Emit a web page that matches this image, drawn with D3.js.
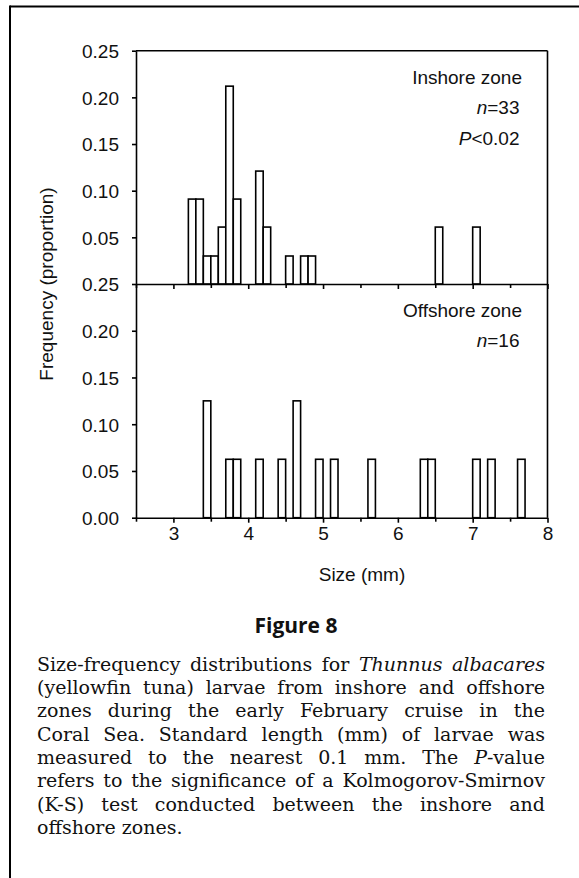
<!DOCTYPE html>
<html>
<head>
<meta charset="utf-8">
<script src="https://cdn.jsdelivr.net/npm/d3@7"></script>
<style>
  html, body { margin: 0; padding: 0; background: #fff; }
  #wrap { position: relative; width: 579px; height: 878px; overflow: hidden; }
  svg { position: absolute; left: 0; top: 0; }
  .cap { position: absolute; left: 37px; width: 508px; font-family: "DejaVu Serif", serif;
         white-space: nowrap; text-align: justify; text-align-last: justify; color: #111; }
  .cap.last { text-align-last: left; }
  #meas { position: absolute; visibility: hidden; white-space: nowrap; font-family: "DejaVu Serif", serif; }
</style>
</head>
<body>
<div id="wrap"></div>
<script>
// ---- data ----
const inshoreBins = [3.2, 3.3, 3.4, 3.5, 3.6, 3.7, 3.8, 4.1, 4.2, 4.5, 4.7, 4.8, 6.5, 7.0];
const inshoreFreq = [0.091, 0.091, 0.030, 0.030, 0.061, 0.212, 0.091, 0.121, 0.061, 0.030, 0.030, 0.030, 0.061, 0.061];
const offshoreBins = [3.4, 3.7, 3.8, 4.1, 4.4, 4.6, 4.9, 5.1, 5.6, 6.3, 6.4, 7.0, 7.2, 7.6];
const offshoreFreq = [0.125, 0.0625, 0.0625, 0.0625, 0.0625, 0.125, 0.0625, 0.0625, 0.0625, 0.0625, 0.0625, 0.0625, 0.0625, 0.0625];
const binWidth = 0.1;
const xTickValues = [2.5, 3, 3.5, 4, 4.5, 5, 5.5, 6, 6.5, 7, 7.5, 8];
const xTickLabels = ["3", "4", "5", "6", "7", "8"];
const yTopTicks = [0.05, 0.10, 0.15, 0.20, 0.25];
const yBottomTicks = [0.00, 0.05, 0.10, 0.15, 0.20, 0.25];
const inshoreLabels = ["Inshore zone", "n=33", "P<0.02"];
const offshoreLabels = ["Offshore zone", "n=16"];
const xTitle = "Size (mm)";
const yTitle = "Frequency (proportion)";
const figTitle = "Figure 8";
const captionLines = [
  'Size-frequency distributions for <i>Thunnus albacares</i>',
  '(yellowfin tuna) larvae from inshore and offshore',
  'zones during the early February cruise in the',
  'Coral Sea. Standard length (mm) of larvae was',
  'measured to the nearest 0.1 mm. The <i>P</i>-value',
  'refers to the significance of a Kolmogorov-Smirnov',
  '(K-S) test conducted between the inshore and',
  'offshore zones.'
];

// ---- layout ----
const W = 579, H = 878;
const left = 136, right = 547.5;
const topY = 50.7, midY = 284, botY = 517.7;
const sans = "'Liberation Sans', Arial, Helvetica, sans-serif";
const fs = 19;

const wrap = d3.select("#wrap");
const svg = wrap.append("svg").attr("width", W).attr("height", H);

// outer frame (top + left)
svg.append("line").attr("x1", 10).attr("x2", W + 5).attr("y1", 6.5).attr("y2", 6.5)
  .attr("stroke", "#000").attr("stroke-width", 2);
svg.append("line").attr("x1", 10).attr("x2", 10).attr("y1", 5.5).attr("y2", H + 5)
  .attr("stroke", "#000").attr("stroke-width", 2);

const x = d3.scaleLinear().domain([2.5, 8]).range([left, right]);
const yTop = d3.scaleLinear().domain([0, 0.25]).range([midY, topY]);
const yBot = d3.scaleLinear().domain([0, 0.25]).range([botY, midY]);

const lw = 1.6;

// bars
function drawBars(bins, freq, y) {
  const data = bins.map((b, i) => ({ b, f: freq[i] }));
  svg.append("g").selectAll("rect").data(data).join("rect")
    .attr("x", d => x(d.b))
    .attr("width", d => x(d.b + binWidth) - x(d.b))
    .attr("y", d => y(d.f))
    .attr("height", d => y(0) - y(d.f))
    .attr("fill", "#fff").attr("stroke", "#000").attr("stroke-width", lw);
}
drawBars(inshoreBins, inshoreFreq, yTop);
drawBars(offshoreBins, offshoreFreq, yBot);

// panel frame lines: top and right
svg.append("line").attr("x1", left).attr("x2", right).attr("y1", topY).attr("y2", topY)
  .attr("stroke", "#000").attr("stroke-width", lw);
svg.append("line").attr("x1", right).attr("x2", right).attr("y1", topY).attr("y2", botY)
  .attr("stroke", "#000").attr("stroke-width", lw);

// x axes (top panel without labels, bottom panel with labels)
function xAxis(yPos, withLabels) {
  const g = svg.append("g").attr("transform", `translate(0,${yPos})`)
    .call(d3.axisBottom(x).tickValues(xTickValues)
      .tickSize(5).tickSizeOuter(0)
      .tickFormat(d => (withLabels && Number.isInteger(d)) ? xTickLabels[d - 3] : ""));
  g.select(".domain").attr("stroke", "#000").attr("stroke-width", lw);
  g.selectAll(".tick line").attr("stroke", "#000").attr("stroke-width", lw)
    .attr("y2", d => Number.isInteger(d) ? 5 : 4);
  g.selectAll(".tick text").attr("font-family", sans).attr("font-size", fs)
    .attr("fill", "#111").attr("y", 9).attr("dy", "0.71em");
  return g;
}
xAxis(midY, false);
xAxis(botY, true);

// y axes
function yAxis(scale, ticks) {
  const g = svg.append("g").attr("transform", `translate(${left},0)`)
    .call(d3.axisLeft(scale).tickValues(ticks).tickSize(4).tickSizeOuter(0)
      .tickFormat(d3.format(".2f")));
  g.select(".domain").attr("stroke", "#000").attr("stroke-width", lw);
  g.selectAll(".tick line").attr("stroke", "#000").attr("stroke-width", lw);
  g.selectAll(".tick text").attr("font-family", sans).attr("font-size", fs)
    .attr("fill", "#111").attr("x", -17).attr("dy", "0.36em");
  return g;
}
yAxis(yTop, yTopTicks);
yAxis(yBot, yBottomTicks);

// annotation text
function richText(xr, yb, str) {
  const t = svg.append("text").attr("x", xr).attr("y", yb).attr("text-anchor", "end")
    .attr("font-family", sans).attr("font-size", fs).attr("fill", "#111");
  const m = str.match(/^([nP])(.*)$/);
  if (m) {
    t.append("tspan").attr("font-style", "italic").text(m[1]);
    t.append("tspan").text(m[2]);
  } else t.text(str);
}
richText(522, 83.5, inshoreLabels[0]);
richText(519.5, 114, inshoreLabels[1]);
richText(519.5, 145, inshoreLabels[2]);
richText(522, 316.5, offshoreLabels[0]);
richText(519.5, 346.5, offshoreLabels[1]);

// axis titles
svg.append("text").attr("x", 362).attr("y", 581).attr("text-anchor", "middle")
  .attr("font-family", sans).attr("font-size", fs).attr("fill", "#111").text(xTitle);
svg.append("text").attr("transform", `translate(53,${284}) rotate(-90)`)
  .attr("text-anchor", "middle")
  .attr("font-family", sans).attr("font-size", fs).attr("fill", "#111").text(yTitle);

// figure title
svg.append("text").attr("x", 296).attr("y", 633).attr("text-anchor", "middle")
  .attr("font-family", "'Open Sans', 'DejaVu Sans', sans-serif").attr("font-weight", 700)
  .attr("font-size", 21).attr("fill", "#111").text(figTitle);

// caption: pick a font size so the widest line fills the column naturally
const meas = wrap.append("span").attr("id", "meas").style("font-size", "20px");
let maxW = 0;
captionLines.slice(0, -1).forEach(ln => {
  meas.html(ln);
  maxW = Math.max(maxW, meas.node().getBoundingClientRect().width);
});
meas.remove();
const capSize = Math.min(19, 20 * 506 / maxW);
const lineH = 23.3, firstBase = 671;
captionLines.forEach((ln, i) => {
  wrap.append("div").attr("class", "cap" + (i === captionLines.length - 1 ? " last" : ""))
    .style("font-size", capSize + "px")
    .style("line-height", lineH + "px")
    .style("top", (firstBase + i * lineH - ((lineH - 1.164 * capSize) / 2 + 0.928 * capSize)) + "px")
    .html(ln);
});
</script>
</body>
</html>
